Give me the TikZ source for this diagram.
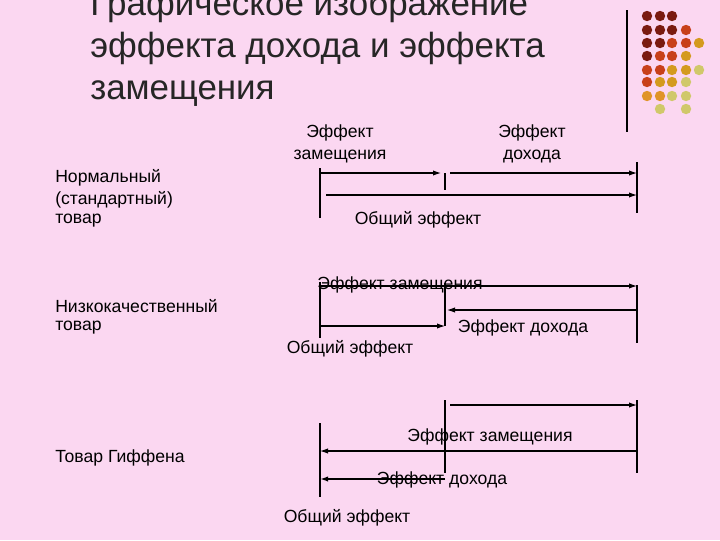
\documentclass[tikz,border=0pt]{standalone}
\usepackage{fontspec}
\setmainfont{Liberation Sans}
\usetikzlibrary{arrows.meta}
\definecolor{bg}{HTML}{FBD7F1}
\definecolor{dA}{HTML}{7A1A10}
\definecolor{dB}{HTML}{C8401A}
\definecolor{dC}{HTML}{D49A1E}
\definecolor{dD}{HTML}{D0C86A}
\definecolor{dE}{HTML}{E09428}
\begin{document}
\begin{tikzpicture}[x=0.75pt,y=-0.75pt,
  lbl/.style={font=\fontsize{13.2}{16}\selectfont,inner sep=0pt,align=left},
  ttl/.style={font=\fontsize{26.2}{31.5}\selectfont,inner sep=0pt,align=left,text=black!85},
  arr/.style={-{Latex[length=6pt,width=4pt]},line width=0.8pt},
  tick/.style={line width=0.8pt}]
\fill[bg] (0,0) rectangle (720,540);
\useasboundingbox (0,0) rectangle (720,540);
\node[ttl,anchor=north west] (title) at (90,-10) {Графическое изображение\\эффекта дохода и эффекта\\замещения};
\draw[line width=0.8pt] (627,10) -- (627,132);
% dots
\foreach \c/\x/\y in {dA/647/16,dA/660/16,dA/672/16,
 dA/647/30,dA/660/30,dA/672/30,dB/686/30,
 dA/647/43,dA/660/43,dB/672/43,dB/686/43,dC/699/43,
 dA/647/56,dB/660/56,dB/672/56,dC/686/56,
 dB/647/70,dB/660/70,dC/672/70,dC/686/70,dD/699/70,
 dB/647/82,dC/660/82,dC/672/82,dD/686/82,
 dE/647/96,dE/660/96,dD/672/96,dD/686/96,
 dD/660/109,dD/686/109}
 \fill[\c] (\x,\y) circle (5.2);
% section 1
\node[lbl,anchor=west] (n1) at (55,178) {Нормальный};
\node[lbl,anchor=west] (n2) at (55,200) {(стандартный)};
\node[lbl,anchor=west] (n3) at (55,221) {товар};
\node[lbl,align=center] (s1) at (340,144) {Эффект\\замещения};
\node[lbl,align=center] (i1) at (532,144) {Эффект\\дохода};
\node[lbl] (t1) at (418,220) {Общий эффект};
\coordinate (a1) at (320,168); \coordinate (a1b) at (320,218);
\coordinate (b1) at (445,173); \coordinate (b1b) at (445,190);
\coordinate (c1) at (637,162); \coordinate (c1b) at (637,213);
\draw[tick] (a1)--(a1b); \draw[tick] (b1)--(b1b); \draw[tick] (c1)--(c1b);
\draw[arr] (320,173) -- (441,173);
\draw[arr] (450,173) -- (637,173);
\draw[arr] (326,195) -- (637,195);
% section 2
\node[lbl,anchor=west] (m1) at (55,306) {Низкокачественный};
\node[lbl,anchor=west] (m2) at (55,328) {товар};
\node[lbl] (s2) at (400,285) {Эффект замещения};
\node[lbl] (i2) at (523,328) {Эффект дохода};
\node[lbl] (t2) at (350,349) {Общий эффект};
\draw[tick] (320,282)--(320,338); \draw[tick] (445,283)--(445,326); \draw[tick] (637,285)--(637,343);
\draw[arr] (320,286) -- (637,286);
\draw[arr] (637,310) -- (447,310);
\draw[arr] (320,326) -- (445,326);
% section 3
\node[lbl,anchor=west] (g1) at (55,458) {Товар Гиффена};
\node[lbl] (s3) at (490,437) {Эффект замещения};
\node[lbl] (i3) at (442,480) {Эффект дохода};
\node[lbl] (t3) at (347,518) {Общий эффект};
\draw[tick] (445,400)--(445,473); \draw[tick] (637,400)--(637,473); \draw[tick] (320,423)--(320,497);
\draw[arr] (450,405) -- (637,405);
\draw[arr] (637,451) -- (320,451);
\draw[arr,line width=1.2pt] (445,479) -- (320,479);
\end{tikzpicture}
\end{document}
